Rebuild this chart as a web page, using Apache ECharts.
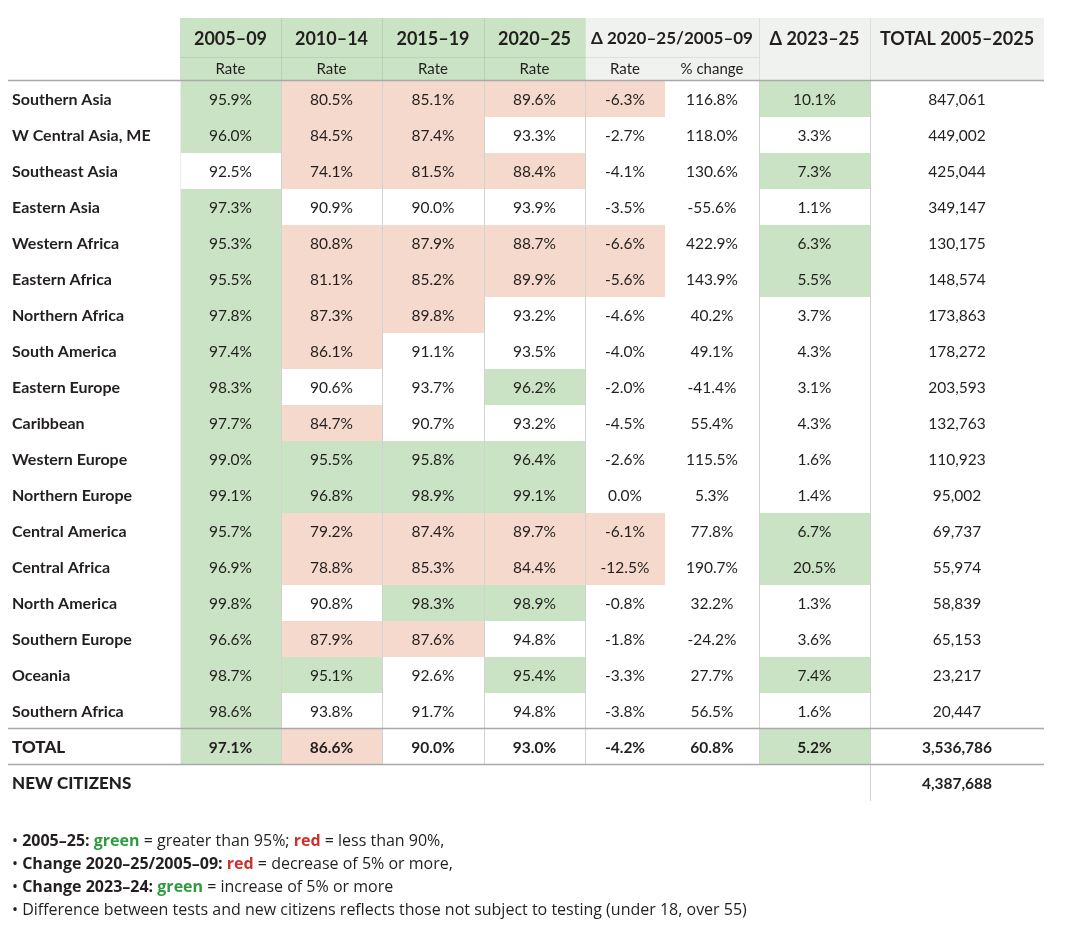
<!DOCTYPE html>
<html>
<head>
<meta charset="utf-8">
<script src="https://cdn.jsdelivr.net/npm/echarts@6/dist/echarts.min.js"></script>
<style>
  html, body { margin: 0; padding: 0; background: #ffffff; }
  #chart { width: 1080px; height: 940px; }
</style>
</head>
<body>
<div id="chart"></div>
<script>
// ---------------- DATA ----------------
const regions = [
  'Southern Asia', 'W Central Asia, ME', 'Southeast Asia', 'Eastern Asia',
  'Western Africa', 'Eastern Africa', 'Northern Africa', 'South America',
  'Eastern Europe', 'Caribbean', 'Western Europe', 'Northern Europe',
  'Central America', 'Central Africa', 'North America', 'Southern Europe',
  'Oceania', 'Southern Africa'
];
const periodHeads = ['2005–09', '2010–14', '2015–19', '2020–25'];
const rate0509 = [95.9, 96.0, 92.5, 97.3, 95.3, 95.5, 97.8, 97.4, 98.3, 97.7, 99.0, 99.1, 95.7, 96.9, 99.8, 96.6, 98.7, 98.6];
const rate1014 = [80.5, 84.5, 74.1, 90.9, 80.8, 81.1, 87.3, 86.1, 90.6, 84.7, 95.5, 96.8, 79.2, 78.8, 90.8, 87.9, 95.1, 93.8];
const rate1519 = [85.1, 87.4, 81.5, 90.0, 87.9, 85.2, 89.8, 91.1, 93.7, 90.7, 95.8, 98.9, 87.4, 85.3, 98.3, 87.6, 92.6, 91.7];
const rate2025 = [89.6, 93.3, 88.4, 93.9, 88.7, 89.9, 93.2, 93.5, 96.2, 93.2, 96.4, 99.1, 89.7, 84.4, 98.9, 94.8, 95.4, 94.8];
const deltaRate = [-6.3, -2.7, -4.1, -3.5, -6.6, -5.6, -4.6, -4.0, -2.0, -4.5, -2.6, 0.0, -6.1, -12.5, -0.8, -1.8, -3.3, -3.8];
const pctChange = [116.8, 118.0, 130.6, -55.6, 422.9, 143.9, 40.2, 49.1, -41.4, 55.4, 115.5, 5.3, 77.8, 190.7, 32.2, -24.2, 27.7, 56.5];
const delta2325 = [10.1, 3.3, 7.3, 1.1, 6.3, 5.5, 3.7, 4.3, 3.1, 4.3, 1.6, 1.4, 6.7, 20.5, 1.3, 3.6, 7.4, 1.6];
const totalTests = [847061, 449002, 425044, 349147, 130175, 148574, 173863, 178272, 203593, 132763, 110923, 95002, 69737, 55974, 58839, 65153, 23217, 20447];
const totalRow = [97.1, 86.6, 90.0, 93.0, -4.2, 60.8, 5.2, 3536786];
const newCitizens = 4387688;
const rowLabels = regions.concat(['TOTAL', 'NEW CITIZENS']);

// ---------------- STYLE / LAYOUT ----------------
const FONT = 'Lato, "Open Sans", sans-serif';
const NOTE_FONT = '"Open Sans", Lato, sans-serif';
const TXT = '#231f20';
const GREEN = '#cae3c4';
const RED = '#f6d9cd';
const HEADGRAY = '#f0f2f0';
const LINE = '#a9a9a9';
const VLINE = '#d2d2d2';
const COLS = [[180, 281], [281, 382], [382, 484], [484, 585], [585, 665], [665, 759], [759, 870], [870, 1044]];
const GRID_TOP = 81, ROW_H = 36;

function pct(v) { return v.toFixed(1) + '%'; }
function rateKind(v) { return v > 95 ? GREEN : (v < 90 ? RED : null); }
function dropKind(v) { return v <= -5 ? RED : null; }
function riseKind(v) { return v >= 5 ? GREEN : null; }

const cells = [];
function addRow(r, vals, bold) {
  const rates = vals.slice(0, 4);
  rates.forEach((v, c) => cells.push({ col: c, row: r, text: pct(v), fill: rateKind(v), bold }));
  cells.push({ col: 4, row: r, text: pct(vals[4]), fill: dropKind(vals[4]), bold });
  cells.push({ col: 5, row: r, text: pct(vals[5]), fill: null, bold });
  cells.push({ col: 6, row: r, text: pct(vals[6]), fill: riseKind(vals[6]), bold });
  cells.push({ col: 7, row: r, text: vals[7].toLocaleString('en-US'), fill: null, bold });
}
regions.forEach((_, i) => addRow(i, [rate0509[i], rate1014[i], rate1519[i], rate2025[i], deltaRate[i], pctChange[i], delta2325[i], totalTests[i]], false));
addRow(18, totalRow, true);
cells.push({ col: 7, row: 19, text: newCitizens.toLocaleString('en-US'), fill: null, bold: true });

// ---------------- GRAPHIC (header, rules, notes) ----------------
const g = [];
function rect(x, y, w, h, fill) { g.push({ type: 'rect', z: 50, shape: { x, y, width: w, height: h }, style: { fill } }); }
function line(x1, y1, x2, y2, stroke, lw) { g.push({ type: 'line', z: 60, shape: { x1, y1, x2, y2 }, style: { stroke, lineWidth: lw || 1 } }); }
function text(x, y, t, size, bold, align) {
  g.push({ type: 'text', z: 70, x, y, style: { text: t, fill: TXT, font: (bold ? 'bold ' : '') + size + 'px ' + FONT, textAlign: align || 'center', textVerticalAlign: 'middle' } });
}
// header backgrounds
rect(180, 18, 405, 62, GREEN);
rect(585, 18, 459, 62, HEADGRAY);
// header separators
[281, 382, 484, 585, 759, 870].forEach(x => line(x + 0.5, 18, x + 0.5, 80, 'rgba(0,0,0,0.08)'));
line(180, 57.5, 759, 57.5, 'rgba(0,0,0,0.08)');
// header texts
periodHeads.forEach((h, i) => {
  const cx = (COLS[i][0] + COLS[i][1]) / 2;
  text(cx, 39, h, 18, true);
  text(cx, 69, 'Rate', 15, false);
});
text((585 + 759) / 2, 39, 'Δ 2020–25/2005–09', 17, true);
text(625, 69, 'Rate', 15, false);
text(712, 69, '% change', 15, false);
text((759 + 870) / 2, 39, 'Δ 2023–25', 18, true);
text((870 + 1044) / 2, 39, 'TOTAL 2005–2025', 18, true);
// table vertical rules
line(180.5, 81, 180.5, 765, '#ececec');
[281, 382, 484, 585, 759].forEach(x => line(x + 0.5, 81, x + 0.5, 765, VLINE));
line(870.5, 81, 870.5, 801, VLINE);
// horizontal rules
line(8, 80.5, 1044, 80.5, LINE, 1.3);
line(8, 728.5, 1044, 728.5, LINE, 1.5);
line(8, 764.5, 1044, 764.5, LINE, 1.5);
// footnotes
const NS = 16;
const noteRich = {
  b: { font: 'bold ' + NS + 'px ' + NOTE_FONT, fill: TXT },
  n: { font: NS + 'px ' + NOTE_FONT, fill: TXT },
  g: { font: 'bold ' + NS + 'px ' + NOTE_FONT, fill: '#2e9b3f' },
  r: { font: 'bold ' + NS + 'px ' + NOTE_FONT, fill: '#d12f2a' }
};
const notes = [
  '{n|• }{b|2005–25:} {g|green}{n| = greater than 95%; }{r|red}{n| = less than 90%,}',
  '{n|• }{b|Change 2020–25/2005–09:} {r|red}{n| = decrease of 5% or more,}',
  '{n|• }{b|Change 2023–24:} {g|green}{n| = increase of 5% or more}',
  '{n|• Difference between tests and new citizens reflects those not subject to testing (under 18, over 55)}'
];
notes.forEach((t, i) => {
  g.push({ type: 'text', z: 70, x: 12, y: 841 + i * 23, style: { text: t, rich: noteRich, font: NS + 'px ' + NOTE_FONT, fill: TXT, textAlign: 'left', textVerticalAlign: 'middle' } });
});

// ---------------- CHART ----------------
const chart = echarts.init(document.getElementById('chart'), null, { renderer: 'canvas' });
chart.setOption({
  backgroundColor: '#ffffff',
  animation: false,
  textStyle: { fontFamily: FONT },
  grid: { left: 0, right: 0, top: GRID_TOP, height: ROW_H * rowLabels.length, containLabel: false },
  xAxis: { type: 'value', min: 0, max: 1080, show: false },
  yAxis: {
    type: 'category', data: rowLabels, inverse: true,
    axisLine: { show: false }, axisTick: { show: false }, splitLine: { show: false },
    axisLabel: {
      inside: true, margin: 12, align: 'left',
      formatter: v => (v === v.toUpperCase() ? '{u|' + v + '}' : '{m|' + v + '}'),
      rich: {
        m: { fontWeight: 'bold', fontSize: 16, color: TXT, fontFamily: FONT, padding: [2, 0, 0, 0] },
        u: { fontWeight: 900, fontSize: 17, color: TXT, fontFamily: FONT, padding: [2, 0, 0, 0] }
      }
    }
  },
  graphic: g,
  series: [{
    type: 'custom',
    coordinateSystem: 'cartesian2d',
    data: cells.map(c => [(COLS[c.col][0] + COLS[c.col][1]) / 2, c.row]),
    encode: { x: 0, y: 1 },
    clip: false,
    renderItem: function (params, api) {
      const c = cells[params.dataIndex];
      const r = api.value(1);
      const pL = api.coord([COLS[c.col][0], r]);
      const pR = api.coord([COLS[c.col][1], r]);
      const h = api.size([0, 1])[1];
      const children = [];
      if (c.fill) {
        children.push({ type: 'rect', shape: { x: pL[0], y: pL[1] - h / 2, width: pR[0] - pL[0], height: h }, style: { fill: c.fill } });
      }
      children.push({
        type: 'text', x: (pL[0] + pR[0]) / 2, y: pL[1] + 0.5,
        style: { text: c.text, fill: TXT, font: (c.bold ? 'bold ' : '') + '15.5px ' + FONT, textAlign: 'center', textVerticalAlign: 'middle' }
      });
      return { type: 'group', children };
    }
  }]
});
</script>
</body>
</html>
